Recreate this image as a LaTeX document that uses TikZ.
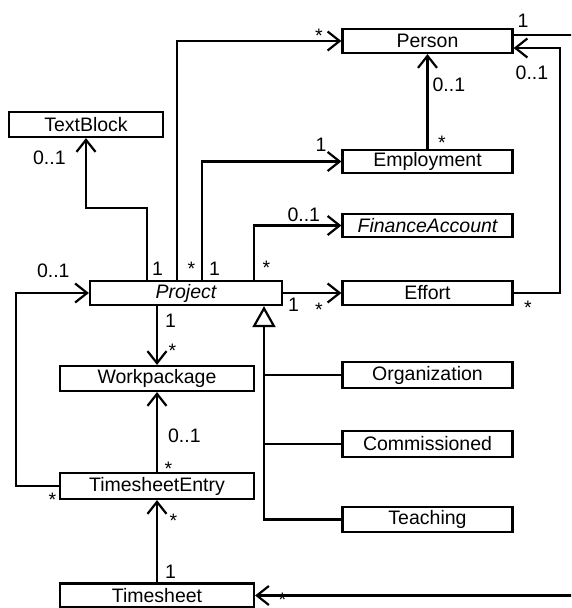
\documentclass[tikz,border=0pt]{standalone}
\usepackage{fontspec}
\setmainfont{Liberation Sans}
\usetikzlibrary{arrows.meta,positioning}
\newcommand{\umlfont}{\fontsize{19.5}{23}\selectfont}
\begin{document}
\begin{tikzpicture}[x=1pt, y=-1pt, line width=2.2pt, font=\umlfont,
    >={Straight Barb[length=12pt,width=19pt]}]
    \tikzstyle{block} = [draw, fill=white, rectangle, inner sep=0pt,
    minimum height=24pt, minimum width=170pt]
    \tikzstyle{mult} = [inner sep=0pt, anchor=north west]
    \tikzstyle{inherit} = [-{Triangle[open, length=21pt, width=23pt]}]
    \useasboundingbox (0,0) rectangle (571,608);
    \clip (0,0) rectangle (571,608);
    % classes
    \node [block, minimum width=154pt, minimum height=25pt] (textblock) at (86,124.5) {TextBlock};
    \node [block] (person) at (427.5,41) {Person};
    \node [block, below of=person, node distance=120.5pt, minimum height=23pt] (employment) {Employment};
    \node [block, below of=employment, node distance=64pt, minimum height=23pt] (finance) {\itshape FinanceAccount};
    \node [block, below of=finance, node distance=67.5pt] (effort) {Effort};
    \node [block, minimum width=192pt] (project) at (186,293) {\itshape Project};
    \node [block, minimum width=194pt, minimum height=25pt] (workpackage) at (157,378.5) {Workpackage};
    \node [block, below of=workpackage, node distance=107.5pt, minimum width=194pt, minimum height=26pt] (entry) {TimesheetEntry};
    \node [block, below of=entry, node distance=109.5pt, minimum width=194pt] (timesheet) {Timesheet};
    \node [block, minimum height=26pt] (organization) at (427.5,375) {Organization};
    \node [block, below of=organization, node distance=69pt, minimum height=26pt] (commissioned) {Commissioned};
    \node [block, below of=commissioned, node distance=75.5pt, minimum height=25pt] (teaching) {Teaching};
    % associations
    \draw [->] ([xshift=-39pt]project.north) node [mult, shift={(4,-19)}] (m1) {1}
        -- ++(0,-72) -| (textblock.south) node [mult, shift={(-54,12)}] (m2) {0..1};
    \draw [->] ([xshift=-9pt]project.north) node [mult, shift={(9.5,-19)}] (m3) {*}
        |- (person.west) node [mult, shift={(-27.5,-13)}] (m4) {*};
    \draw [->] ([xshift=16pt]project.north) node [mult, shift={(6,-19)}] (m5) {1}
        |- (employment.west) node [mult, shift={(-27,-25)}] (m6) {1};
    \draw [->] ([xshift=68pt]project.north) node [mult, shift={(7.5,-20)}] (m7) {*}
        |- (finance.west) node [mult, shift={(-55,-19)}] (m8) {0..1};
    \draw [->] (project.east) node [mult, shift={(4,4)}] (m9) {1}
        -- (effort.west) node [mult, shift={(-27.5,9)}] (m10) {*};
    \draw [->] (effort.east) node [mult, shift={(9.5,7)}] (m11) {*}
        -- ++(46,0) |- ([yshift=-7pt]person.east) node [mult, shift={(1,17)}] (m12) {0..1};
    \draw [->] (employment.north) node [mult, shift={(9.5,-14)}] (m13) {*}
        -- (person.south) node [mult, shift={(4,23)}] (m14) {0..1};
    \draw [->] ([xshift=-29pt]project.south) node [mult, shift={(7,7)}] (m15) {1}
        -- (workpackage.north) node [mult, shift={(10.5,-22)}] (m16) {*};
    \draw [->] (entry.north) node [mult, shift={(6.5,-11)}] (m17) {*}
        -- (workpackage.south) node [mult, shift={(10,36)}] (m18) {0..1};
    \draw [->] (entry.west) node [mult, shift={(-11.5,6)}] (m19) {*}
        -- ++(-43,0) |- (project.west) node [mult, shift={(-53,-30)}] (m20) {0..1};
    \draw [->] (timesheet.north) node [mult, shift={(7,-18)}] (m21) {1}
        -- (entry.south) node [mult, shift={(11.5,13)}] (m22) {*};
    \draw [->] ([yshift=6pt]person.east) node [mult, shift={(3,-22)}] (m23) {1}
        -- ++(80,0) |- (timesheet.east) node [mult, shift={(22.5,-4)}] (m24) {*};
    % generalization
    \coordinate (gen) at ([xshift=78pt]project.south);
    \draw [inherit] (teaching) -| (gen);
    \draw (organization) -- (organization -| gen);
    \draw (commissioned) -- (commissioned -| gen);
\end{tikzpicture}
\end{document}
